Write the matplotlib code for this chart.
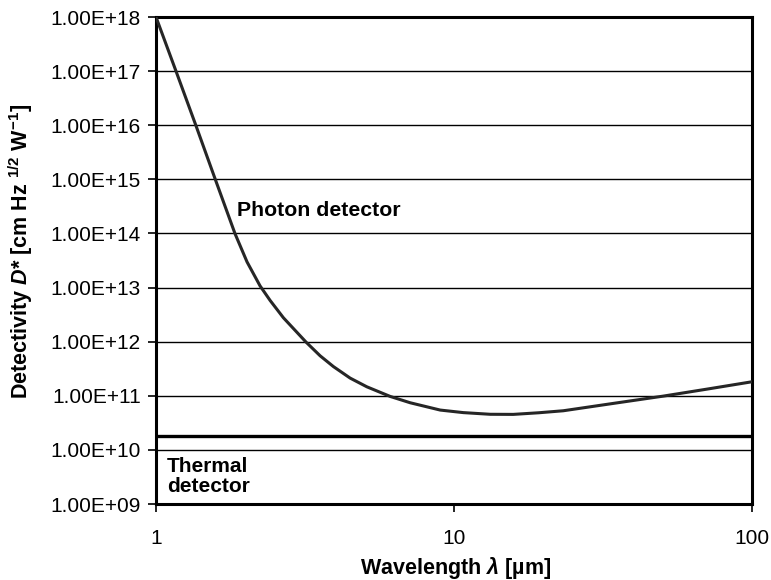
import matplotlib
matplotlib.use("Agg")
import matplotlib.pyplot as plt
import numpy as np
from matplotlib.ticker import FuncFormatter, FixedLocator, NullLocator

plt.rcParams['font.family'] = ['Liberation Sans', 'DejaVu Sans']
plt.rcParams['mathtext.fontset'] = 'custom'
plt.rcParams['mathtext.rm'] = 'Liberation Sans:bold'
plt.rcParams['mathtext.it'] = 'Liberation Sans:italic:bold'
plt.rcParams['mathtext.bf'] = 'Liberation Sans:bold'

# Photon detector curve (wavelength in µm, log10 of D*)
photon_wavelength = [1.0, 1.167, 1.362, 1.584, 1.842, 2.021, 2.235, 2.415, 2.676,
                     3.189, 3.554, 3.938, 4.481, 5.099, 6.107, 7.128, 8.989,
                     10.74, 13.23, 15.80, 19.23, 23.26, 34.24, 50.41, 70.8, 100.0]
photon_log_d = [18.0, 17.0, 15.991, 14.987, 13.994, 13.473, 13.030, 12.762, 12.442,
                11.991, 11.739, 11.540, 11.327, 11.166, 10.988, 10.871, 10.736,
                10.689, 10.658, 10.656, 10.686, 10.723, 10.859, 10.994, 11.124, 11.259]
photon_d = [10 ** v for v in photon_log_d]

# Thermal detector (flat)
thermal_wavelength = [1.0, 100.0]
thermal_d = [1.8e10, 1.8e10]

y_ticks = [1e9, 1e10, 1e11, 1e12, 1e13, 1e14, 1e15, 1e16, 1e17, 1e18]
x_ticks = [1, 10, 100]
x_tick_labels = ["1", "10", "100"]

fig = plt.figure(figsize=(7.71, 5.80), dpi=100)
ax = fig.add_axes([156/771, 1-504/580, (752-156)/771, (504-17)/580])

ax.set_xscale('log')
ax.set_yscale('log')
ax.set_xlim(1, 100)
ax.set_ylim(1e9, 1e18)

for yv in y_ticks:
    ax.axhline(yv, color='black', lw=1.0, zorder=1)

ax.plot(photon_wavelength, photon_d, color='#262626', lw=2.2, zorder=3,
        solid_joinstyle='round', solid_capstyle='round')
ax.plot(thermal_wavelength, thermal_d, color='black', lw=2.4, zorder=3)

ax.yaxis.set_major_locator(FixedLocator(y_ticks))
ax.yaxis.set_minor_locator(NullLocator())
ax.yaxis.set_major_formatter(FuncFormatter(lambda v, p: "%.2fE+%02d" % (1.00, int(round(np.log10(v))))))
ax.xaxis.set_major_locator(FixedLocator(x_ticks))
ax.xaxis.set_minor_locator(NullLocator())
ax.set_xticklabels(x_tick_labels)

ax.tick_params(axis='both', which='major', direction='out', length=6, width=1.2,
               labelsize=15, colors='black', pad=5)
ax.tick_params(axis='x', pad=12)

for s in ax.spines.values():
    s.set_linewidth(2.2)
    s.set_color('black')

ax.set_xlabel(r"Wavelength $\lambda$ [µm]", fontsize=15.5, fontweight='bold')
ax.xaxis.set_label_coords((455.5-156)/596, -(568-504)/487)
ax.xaxis.label.set_va('center')
ax.set_ylabel(r"Detectivity $D$* [cm Hz $^{1/2}$ W$^{-1}$]", fontsize=15.5, fontweight='bold')
ax.yaxis.set_label_coords(-(156-21)/596, (504-251)/487)
ax.yaxis.label.set_va('center')

ax.text(237/771, 1-211/580, "Photon detector", transform=fig.transFigure,
        fontsize=15.3, fontweight='bold', va='center', ha='left')
ax.text(167/771, 1-476.5/580, "Thermal\ndetector", transform=fig.transFigure,
        fontsize=15, fontweight='bold', va='center', ha='left', linespacing=1.1)

fig.savefig("out.png", dpi=100)
